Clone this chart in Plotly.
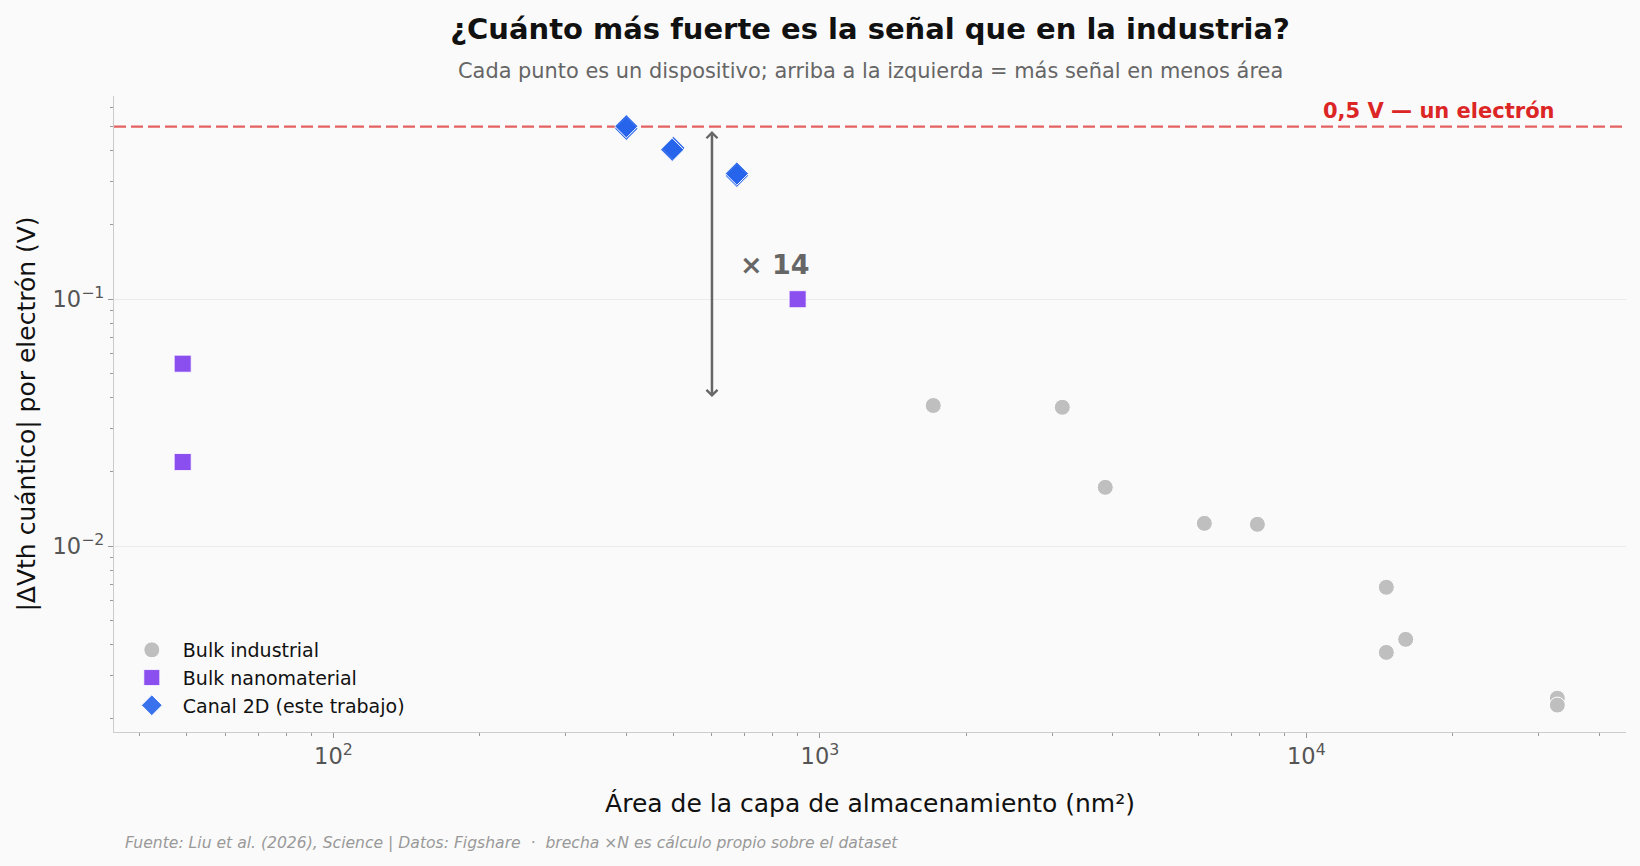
import math
import plotly.graph_objects as go

# ---- data ----
ind_area = [1710, 3150, 3860, 6170, 7930, 14600, 16000, 14600, 32800, 32800]
ind_dvth = [0.0371, 0.0365, 0.0173, 0.01236, 0.01225, 0.00681, 0.00419, 0.00371, 0.00242, 0.00227]

nano_area = [49, 49, 900]
nano_dvth = [0.0548, 0.0219, 0.100]

canal_area = [400, 400, 500, 497, 675, 675]
canal_dvth = [0.490, 0.502, 0.410, 0.403, 0.316, 0.323]

ref_v = 0.5
gap_factor = 14
arrow_x = 600
arrow_low = 0.0396
arrow_high = 0.48

x_range = [1.549, 4.657]
y_range = [-2.753, -0.177]

FONT = "DejaVu Sans"
BG = "#fafafa"
NB = "\u00a0"

fig = go.Figure()

fig.add_trace(go.Scatter(
    x=[10 ** x_range[0], 10 ** x_range[1]], y=[ref_v, ref_v],
    mode="lines", line=dict(color="rgba(220,38,38,0.72)", width=2.2, dash="12px,5px"),
    showlegend=False, hoverinfo="skip"))

fig.add_trace(go.Scatter(
    x=ind_area, y=ind_dvth, mode="markers", name="Bulk industrial",
    marker=dict(symbol="circle", size=16, color="#bfbfbf",
                line=dict(color="white", width=1))))

fig.add_trace(go.Scatter(
    x=nano_area, y=nano_dvth, mode="markers", name="Bulk nanomaterial",
    marker=dict(symbol="square", size=17, color="#8b4ff0",
                line=dict(color="white", width=0.8))))

fig.add_trace(go.Scatter(
    x=canal_area, y=canal_dvth, mode="markers", name="Canal 2D (este trabajo)",
    marker=dict(symbol="diamond", size=18, color="rgba(37,99,235,0.9)",
                line=dict(color="white", width=1))))

# arrow
fig.add_annotation(
    x=math.log10(arrow_x), y=math.log10(arrow_high),
    ax=math.log10(arrow_x), ay=math.log10(arrow_low),
    xref="x", yref="y", axref="x", ayref="y",
    text="", showarrow=True, arrowside="end+start", arrowhead=4, startarrowhead=4,
    arrowsize=0.85, startarrowsize=0.85, arrowwidth=2.5, arrowcolor="#666666")

fig.add_annotation(
    x=math.log10(680), y=math.log10(0.138), xref="x", yref="y",
    text=f"<b>× {gap_factor}</b>", showarrow=False, xanchor="left", yanchor="middle",
    font=dict(family=FONT, size=27, color="#666666"))

fig.add_annotation(
    x=0.9544, y=math.log10(ref_v), xref="paper", yref="y",
    text="<b>0,5 V — un electrón</b>", showarrow=False, xanchor="right", yanchor="bottom",
    yshift=2, font=dict(family=FONT, size=21, color="#dc2626"))

fig.add_annotation(
    x=0.5, y=1.0393, xref="paper", yref="paper",
    text="Cada punto es un dispositivo; arriba a la izquierda = más señal en menos área",
    showarrow=False, xanchor="center", yanchor="middle",
    font=dict(family=FONT, size=20.9, color="#666666"))

fig.add_annotation(
    x=0.006, y=-0.1745, xref="paper", yref="paper",
    text="<i>Fuente: Liu et al. (2026), Science | Datos: Figshare" + NB + NB + "·" + NB + NB
         + "brecha ×N es cálculo propio sobre el dataset</i>",
    showarrow=False, xanchor="left", yanchor="middle",
    font=dict(family=FONT, size=15.6, color="#999999"))

axis_common = dict(
    type="log", showline=True, linecolor="#cccccc", linewidth=1,
    ticks="outside", ticklen=5, tickcolor="#999999", tickwidth=1,
    dtick=1, exponentformat="power",
    tickfont=dict(family=FONT, size=18, color="#555555"),
    minor=dict(ticks="outside", ticklen=3, tickcolor="#999999", tickwidth=1, dtick="D1", showgrid=False),
    zeroline=False)

fig.update_layout(
    width=1640, height=866,
    paper_bgcolor=BG, plot_bgcolor=BG,
    margin=dict(l=114, r=14, t=96, b=134),
    font=dict(family=FONT, color="#111111"),
    title=dict(text="<b>¿Cuánto más fuerte es la señal que en la industria?</b>",
               x=0.5, xref="paper", xanchor="center",
               y=1 - 29 / 866, yref="container", yanchor="middle",
               font=dict(family=FONT, size=29, color="#111111")),
    xaxis=dict(axis_common, range=x_range, showgrid=False,
               title=dict(text="Área de la capa de almacenamiento (nm²)",
                          font=dict(family=FONT, size=25, color="#111111"), standoff=26)),
    yaxis=dict(axis_common, range=y_range, showgrid=True, gridcolor="#ebebeb", gridwidth=1,
               title=dict(text="|ΔVth cuántico| por electrón (V)",
                          font=dict(family=FONT, size=25, color="#111111"), standoff=9)),
    legend=dict(x=0.0045, y=0.011, xanchor="left", yanchor="bottom", itemwidth=52,
                bgcolor="rgba(0,0,0,0)", font=dict(family=FONT, size=19, color="#111111")),
)

fig.write_html("out.html")
